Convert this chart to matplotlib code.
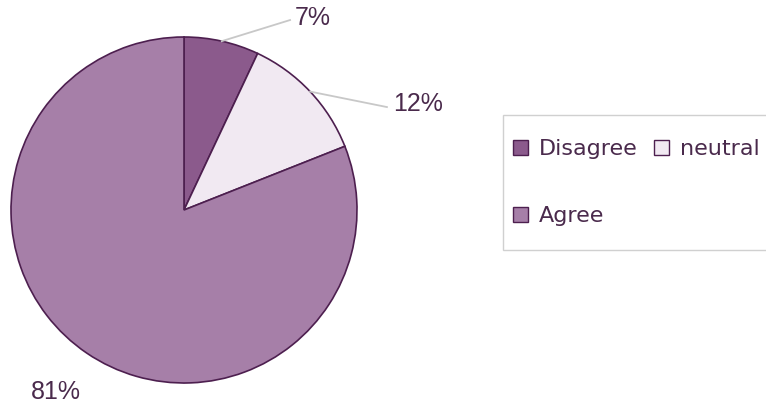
import numpy as np
import matplotlib.pyplot as plt
from matplotlib.patches import Patch, Rectangle
from matplotlib import font_manager

# data
categories = ['Disagree', 'neutral', 'Agree']
shares = [7, 12, 81]
labels = ['7%', '12%', '81%']
colors = ['#8b5a8c', '#f1e9f2', '#a67fa8']
edge = '#4d1f4f'
text_col = '#4a2a4c'

names = {f.name for f in font_manager.fontManager.ttflist}
narrow = 'Liberation Sans Narrow' if 'Liberation Sans Narrow' in names else 'Liberation Sans'

fig = plt.figure(figsize=(7.66, 4.12), dpi=100)
# pie centre at about (184, 210) px, radius about 173 px
ax = fig.add_axes([11 / 766, 29 / 412, 346 / 766, 346 / 412])

wedges, _ = ax.pie(shares, colors=colors, startangle=90, counterclock=False,
                   wedgeprops=dict(edgecolor=edge, linewidth=1.2))
ax.set_xlim(-1, 1)
ax.set_ylim(-1, 1)
ax.set_aspect('equal')
ax.axis('off')

# labels: (text position, leader line end) in axes data units
label_pos = [(0.746, 1.11), (1.353, 0.613), (-0.74, -1.052)]
line_end = [(0.613, 1.098), (1.173, 0.595), None]
for w, lab, pos, le in zip(wedges, labels, label_pos, line_end):
    ang = np.deg2rad((w.theta1 + w.theta2) / 2)
    if le is not None:
        ex, ey = np.cos(ang), np.sin(ang)
        ax.plot([ex, le[0]], [ey, le[1]], color='#c8c8c8', lw=1.3, clip_on=False)
    ax.text(pos[0], pos[1], lab, ha='center', va='center', fontsize=21 if narrow.endswith('Narrow') else 18,
            color=text_col, clip_on=False, fontfamily=narrow)

# legend frame drawn by hand, runs off the right edge
fig.patches.append(Rectangle((503 / 766, 1 - 250 / 412), 300 / 766, 135 / 412,
                             transform=fig.transFigure, facecolor='white',
                             edgecolor='#d0d0d0', linewidth=1.0, zorder=0))

handles = [Patch(facecolor=colors[i], edgecolor=edge, label=categories[i]) for i in (0, 2, 1)]
leg = fig.legend(handles=handles, ncol=2, loc='upper left',
                 bbox_to_anchor=(513 / 766, 1 - 139 / 412), borderaxespad=0,
                 frameon=False, fontsize=16, handlelength=0.68, handleheight=0.68,
                 handletextpad=0.5, columnspacing=0.71, labelspacing=2.13,
                 borderpad=0, labelcolor=text_col)

fig.savefig('out.png', dpi=100)
